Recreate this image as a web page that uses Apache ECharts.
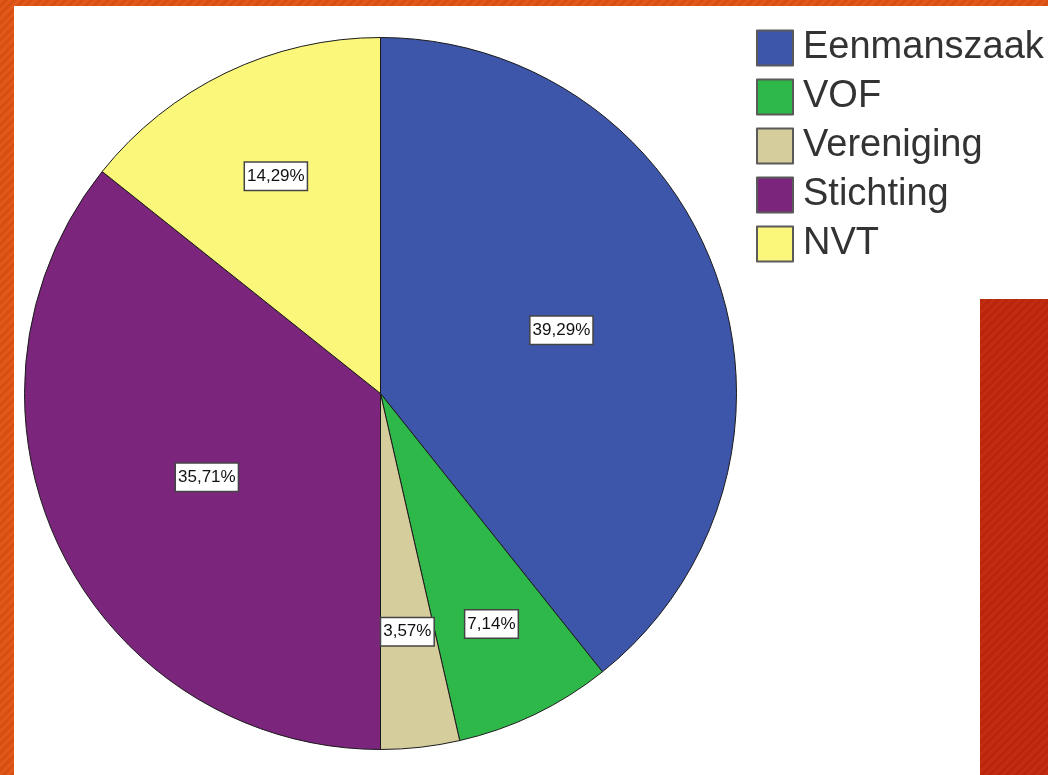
<!DOCTYPE html>
<html>
<head>
<meta charset="utf-8">
<script src="https://cdn.jsdelivr.net/npm/echarts@6/dist/echarts.min.js"></script>
<style>
  html, body { margin: 0; padding: 0; width: 1048px; height: 775px; overflow: hidden; }
  body { background: repeating-linear-gradient(135deg, #e2571a 0px, #e2571a 3px, #d84f14 3px, #d84f14 6px); position: relative; }
  #paper { position: absolute; left: 14px; top: 6px; right: 0; bottom: 0; background: #fff; }
  #chart { position: absolute; left: 0; top: 0; width: 1048px; height: 775px; }
  #strip { position: absolute; left: 980px; top: 299px; width: 68px; height: 476px;
           background: repeating-linear-gradient(135deg, #b9260c 0px, #b9260c 3px, #c12d10 3px, #c12d10 6px); }
</style>
</head>
<body>
<div id="paper"></div>
<div id="chart"></div>
<div id="strip"></div>
<script>
// categorieen en aantallen (28 in totaal)
var categories = ['Eenmanszaak', 'VOF', 'Vereniging', 'Stichting', 'NVT'];
var counts = [11, 2, 1, 10, 4];
var colors = ['#3d56aa', '#2eb84a', '#d6cd9c', '#7b267c', '#faf77a'];
// hoe ver het label van het midden staat (fractie van de straal)
var labelRadius = [0.53, 0.71, 0.665, 0.533, 0.669];

var R = 356;
var total = counts.reduce(function (a, b) { return a + b; }, 0);
var mids = [];
var acc = 0;
for (var i = 0; i < counts.length; i++) {
    mids.push((acc + counts[i] / 2) / total * 2 * Math.PI);
    acc += counts[i];
}

var pieData = [];
for (var j = 0; j < categories.length; j++) {
    pieData.push({ name: categories[j], value: counts[j], itemStyle: { color: colors[j] } });
}

var myChart = echarts.init(document.getElementById('chart'));
var option = {
    animation: false,
    backgroundColor: 'transparent',
    legend: {
        orient: 'vertical',
        left: 756,
        top: 29,
        padding: 0,
        icon: 'rect',
        itemWidth: 36,
        itemHeight: 35,
        itemGap: 11,
        selectedMode: false,
        itemStyle: { borderColor: '#5a5a5a', borderWidth: 2 },
        textStyle: { fontFamily: 'Arial, Liberation Sans', fontSize: 38, color: '#333', padding: [0, 0, 0, 5] },
        data: categories
    },
    series: [
        {
            type: 'pie',
            center: [380.5, 393.5],
            radius: R,
            startAngle: 90,
            clockwise: true,
            silent: true,
            data: pieData,
            itemStyle: { borderColor: '#1a1a1a', borderWidth: 1 },
            label: {
                show: true,
                position: 'inside',
                formatter: function (p) {
                    return (p.value / total * 100).toFixed(2).replace('.', ',') + '%';
                },
                fontFamily: 'Arial, Liberation Sans',
                fontSize: 17,
                lineHeight: 19,
                color: '#111',
                backgroundColor: '#fff',
                borderColor: '#444',
                borderWidth: 1.5,
                padding: [4, 2]
            },
            labelLine: { show: false },
            labelLayout: function (params) {
                var k = params.dataIndex;
                var d = (labelRadius[k] - 0.5) * R;
                return {
                    dx: d * Math.sin(mids[k]),
                    dy: -d * Math.cos(mids[k])
                };
            }
        }
    ]
};
myChart.setOption(option);
</script>
</body>
</html>
